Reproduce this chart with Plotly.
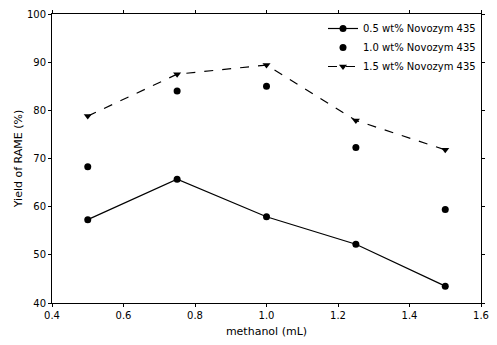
import plotly.graph_objects as go

methanol = [0.5, 0.75, 1.0, 1.25, 1.5]
yield_05 = [57.3, 65.7, 57.9, 52.2, 43.5]
yield_10 = [68.3, 84.0, 85.0, 72.3, 59.4]
yield_15 = [78.8, 87.5, 89.4, 77.9, 71.8]
names = ["0.5 wt% Novozym 435", "1.0 wt% Novozym 435", "1.5 wt% Novozym 435"]

fig = go.Figure()
fig.add_trace(go.Scatter(x=methanol, y=yield_05, name=names[0], mode="lines+markers",
                         line=dict(color="black", width=1.2),
                         marker=dict(symbol="circle", size=7, color="black")))
fig.add_trace(go.Scatter(x=methanol, y=yield_10, name=names[1], mode="markers",
                         marker=dict(symbol="circle", size=7, color="black")))
fig.add_trace(go.Scatter(x=methanol, y=yield_15, name=names[2], mode="lines+markers",
                         line=dict(color="black", width=1.2, dash="dash"),
                         marker=dict(symbol="triangle-down", size=7, color="black")))

fig.update_layout(
    width=497, height=345,
    margin=dict(l=52, r=8, t=13, b=42),
    plot_bgcolor="white", paper_bgcolor="white",
    font=dict(family="DejaVu Sans, sans-serif", size=10, color="black"),
    showlegend=True,
    legend=dict(x=1.0, y=1.0, xanchor="right", yanchor="top",
                bgcolor="rgba(0,0,0,0)", font=dict(size=10),
                tracegroupgap=0, itemwidth=30),
    xaxis=dict(range=[0.4, 1.6], dtick=0.2, tickformat=".1f", showgrid=False, zeroline=False,
               showline=True, linecolor="black", linewidth=1, mirror="ticks",
               ticks="outside", ticklen=3, tickcolor="black", ticklabeloverflow="allow",
               title=dict(text="methanol (mL)", font=dict(size=11), standoff=7)),
    yaxis=dict(range=[40, 100], dtick=10, showgrid=False, zeroline=False,
               showline=True, linecolor="black", linewidth=1, mirror="ticks",
               ticks="outside", ticklen=3, tickcolor="black",
               title=dict(text="Yield of RAME (%)", font=dict(size=11), standoff=2)),
)

fig.write_html("out.html", config={"displayModeBar": False},
               post_script="document.body.style.margin='0';")
